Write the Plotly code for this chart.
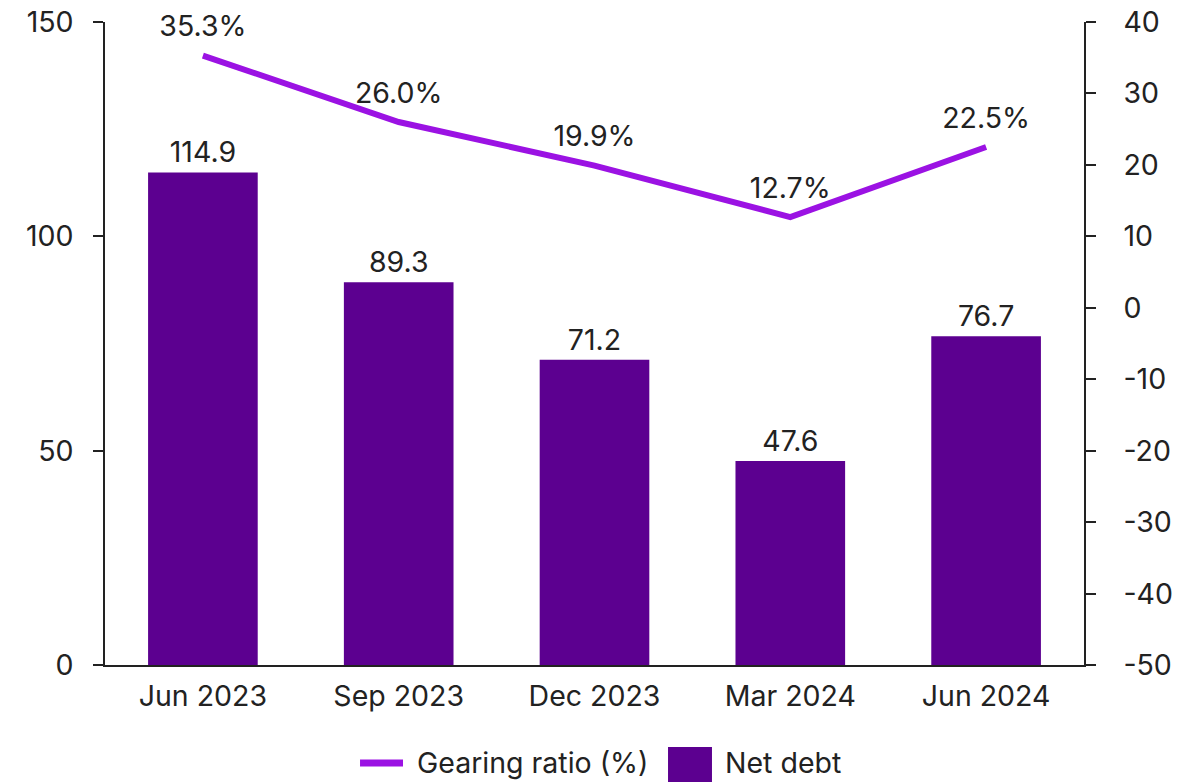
import plotly.graph_objects as go

categories = ["Jun 2023", "Sep 2023", "Dec 2023", "Mar 2024", "Jun 2024"]
net_debt = [114.9, 89.3, 71.2, 47.6, 76.7]
gearing = [35.3, 26.0, 19.9, 12.7, 22.5]
left_ticks = [0, 50, 100, 150]
right_ticks = [-50, -40, -30, -20, -10, 0, 10, 20, 30, 40]

BAR_COLOR = "#5C0090"
LINE_COLOR = "#9B12E3"
FONT = "Inter"
FS = 28.5
TXT = "#222222"

fig = go.Figure()
fig.add_trace(go.Bar(
    x=categories, y=net_debt, name="Net debt",
    marker=dict(color=BAR_COLOR, line=dict(width=0)),
    text=[f"{v:.1f}" for v in net_debt], textposition="outside",
    textfont=dict(size=FS, color=TXT, family=FONT), cliponaxis=False,
    showlegend=False,
))
fig.add_trace(go.Scatter(
    x=categories, y=gearing, name="Gearing ratio (%)", yaxis="y2",
    mode="lines+markers+text", line=dict(color=LINE_COLOR, width=6),
    marker=dict(size=18, color="rgba(0,0,0,0)"),
    text=[f"{v:.1f}%" for v in gearing], textposition="top center",
    textfont=dict(size=FS, color=TXT, family=FONT), cliponaxis=False,
    showlegend=False,
))

axis_common = dict(showgrid=False, zeroline=False, showline=True, linecolor=TXT,
                   linewidth=1.5, ticks="outside", ticklen=10, tickwidth=1.5,
                   tickcolor=TXT, automargin=False,
                   tickfont=dict(size=FS, color=TXT, family=FONT))

fig.update_layout(
    width=1183, height=784,
    margin=dict(l=105, r=99, t=22, b=119, autoexpand=False),
    plot_bgcolor="white", paper_bgcolor="white",
    bargap=0.44,
    xaxis=dict(showline=True, linecolor=TXT, linewidth=1.5, showgrid=False,
               ticks="", automargin=False, ticklabelstandoff=5,
               tickfont=dict(size=FS, color=TXT, family=FONT)),
    yaxis=dict(range=[0, 150], tickvals=left_ticks, ticklabelstandoff=14,
               ticktext=[str(v) for v in left_ticks], **axis_common),
    yaxis2=dict(range=[-50, 40], tickvals=right_ticks, ticklabelstandoff=22,
                ticktext=[str(v) for v in right_ticks],
                overlaying="y", side="right", **axis_common),
    showlegend=False,
    font=dict(family=FONT, color=TXT),
)

# custom legend
fig.add_shape(type="line", xref="paper", yref="paper", x0=0.2605, x1=0.3044,
              y0=-0.1524, y1=-0.1524, line=dict(color=LINE_COLOR, width=7))
fig.add_annotation(xref="paper", yref="paper", x=0.3167, y=-0.1524, xanchor="left",
                   yanchor="middle", text="Gearing ratio (%)", showarrow=False,
                   font=dict(size=FS, color=TXT, family=FONT))
fig.add_shape(type="rect", xref="paper", yref="paper", x0=0.5751, x1=0.620,
              y0=-0.182, y1=-0.1275, fillcolor=BAR_COLOR, line=dict(width=0))
fig.add_annotation(xref="paper", yref="paper", x=0.6313, y=-0.1524, xanchor="left",
                   yanchor="middle", text="Net debt", showarrow=False,
                   font=dict(size=FS, color=TXT, family=FONT))

fig.write_html("out.html", config={"displayModeBar": False},
               post_script="document.body.style.margin='0';document.body.style.overflow='hidden';")
